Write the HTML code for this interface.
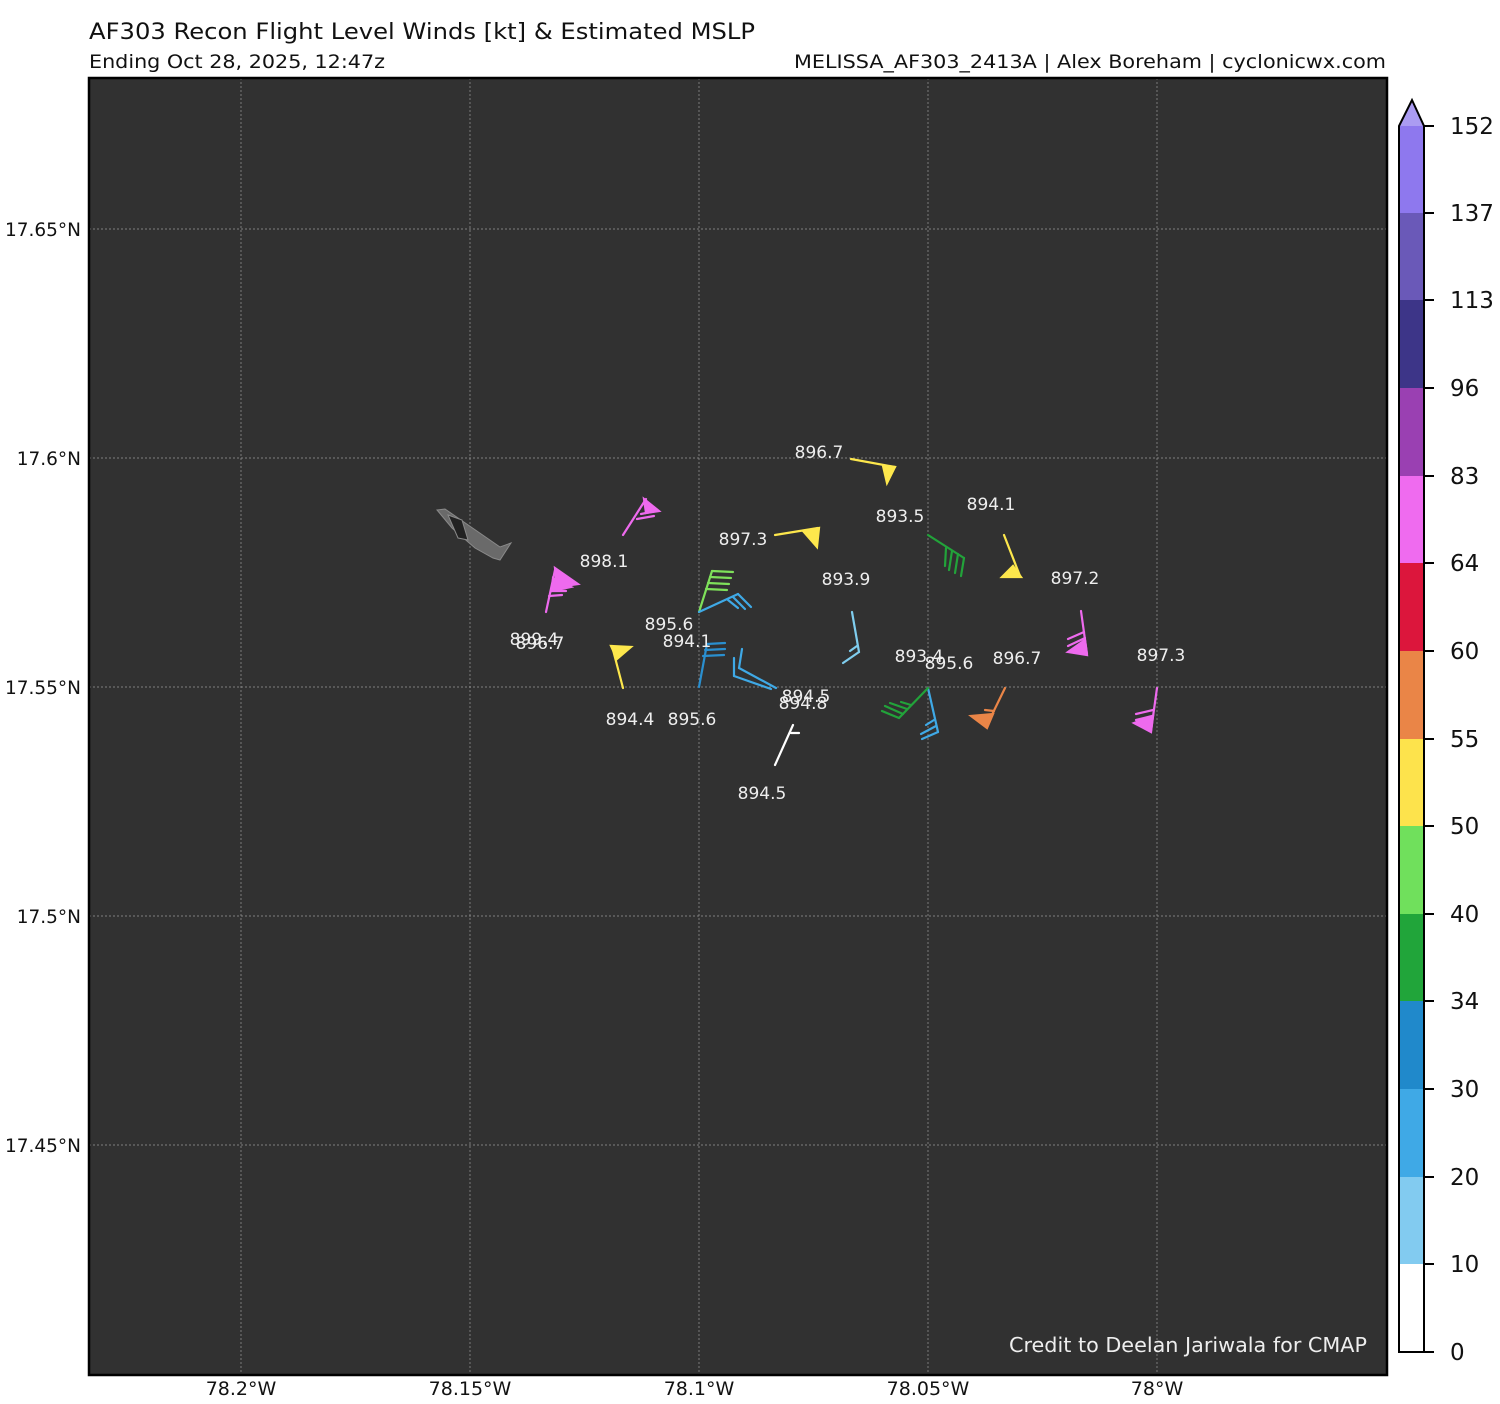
<!DOCTYPE html>
<html><head><meta charset="utf-8"><style>
html,body{margin:0;padding:0;background:#fff;}
svg{display:block;}
text{font-family:"DejaVu Sans","Liberation Sans",sans-serif;}
</style></head><body>
<svg width="1500" height="1404" viewBox="0 0 1500 1404" xmlns="http://www.w3.org/2000/svg">
<rect width="1500" height="1404" fill="#fff"/>
<text x="89" y="39" font-size="22" fill="#111" textLength="666" lengthAdjust="spacingAndGlyphs">AF303 Recon Flight Level Winds [kt] &amp; Estimated MSLP</text>
<text x="89" y="68" font-size="19" fill="#111" textLength="296" lengthAdjust="spacingAndGlyphs">Ending Oct 28, 2025, 12:47z</text>
<text x="794" y="68" font-size="19" fill="#111" textLength="592" lengthAdjust="spacingAndGlyphs">MELISSA_AF303_2413A | Alex Boreham | cyclonicwx.com</text>
<rect x="89" y="78" width="1298" height="1297" fill="#313131"/>
<g stroke="#999" stroke-width="0.7" stroke-dasharray="2,2">
<line x1="241" y1="78" x2="241" y2="1375"/><line x1="470" y1="78" x2="470" y2="1375"/><line x1="699" y1="78" x2="699" y2="1375"/><line x1="928" y1="78" x2="928" y2="1375"/><line x1="1157" y1="78" x2="1157" y2="1375"/>
<line x1="89" y1="229" x2="1387" y2="229"/><line x1="89" y1="458" x2="1387" y2="458"/><line x1="89" y1="687" x2="1387" y2="687"/><line x1="89" y1="916" x2="1387" y2="916"/><line x1="89" y1="1145" x2="1387" y2="1145"/>
</g>
<rect x="89" y="78" width="1298" height="1297" fill="none" stroke="#000" stroke-width="2.5"/>
<g font-size="18.5" fill="#111" text-anchor="end">
<text x="81" y="236">17.65°N</text><text x="81" y="465">17.6°N</text><text x="81" y="694">17.55°N</text><text x="81" y="923">17.5°N</text><text x="81" y="1152">17.45°N</text>
</g>
<g font-size="19" fill="#111" text-anchor="middle">
<text x="241" y="1395">78.2°W</text><text x="470" y="1395">78.15°W</text><text x="699" y="1395">78.1°W</text><text x="928" y="1395">78.05°W</text><text x="1157" y="1395">78°W</text>
</g>
<!-- plane -->
<g fill="#6a6a6a" stroke="#8a8a8a" stroke-width="1">
<polygon points="437,510 445,509 500,547 511,543 500,560 493,558 475,548 460,535 452,528"/>
<polygon points="448,515 462,520 468,540 458,538" fill="#222"/>
</g>
<!-- barbs -->
<g fill="none" stroke-width="2.2" stroke-linecap="round">
<g stroke="#ee6aee" fill="#ee6aee">
<line x1="623" y1="535" x2="646" y2="499"/><polygon points="644,499 659,511 646,513"/>
<line x1="641" y1="514" x2="656" y2="511"/><line x1="637" y1="519" x2="654" y2="516"/>
<line x1="546" y1="612" x2="555" y2="570"/><polygon points="555,568 578,584 557,587"/><polygon points="553,578 571,587 552,591"/>
<line x1="551" y1="591" x2="566" y2="591"/><line x1="549" y1="596" x2="562" y2="595"/>
<line x1="1081" y1="611" x2="1087" y2="654"/><polygon points="1087,655 1068,652 1085,640"/>
<line x1="1084" y1="632" x2="1068" y2="639"/><line x1="1085" y1="638" x2="1068" y2="646"/>
<line x1="1157" y1="688" x2="1151" y2="731"/><polygon points="1151,732 1134,723 1153,716"/>
<line x1="1153" y1="710" x2="1136" y2="714"/><line x1="1152" y1="716" x2="1136" y2="720"/>
</g>
<g stroke="#fde74c" fill="#fde74c">
<line x1="775" y1="535" x2="818" y2="528"/><polygon points="803,531 819,528 817,547"/>
<line x1="851" y1="459" x2="895" y2="467"/><polygon points="883,466 895,467 887,483"/>
<line x1="1004" y1="535" x2="1020" y2="576"/><polygon points="1021,577 1002,577 1013,566"/>
<line x1="623" y1="688" x2="612" y2="646"/><polygon points="611,646 631,647 617,659"/>
</g>
<g stroke="#7ee05a">
<line x1="699" y1="612" x2="712" y2="571"/>
<line x1="712" y1="571" x2="733" y2="572"/><line x1="710" y1="577" x2="731" y2="578"/><line x1="708" y1="583" x2="729" y2="584"/><line x1="706" y1="589" x2="727" y2="590"/>
</g>
<g stroke="#3fa9e6">
<line x1="699" y1="612" x2="738" y2="594"/>
<line x1="738" y1="594" x2="751" y2="607"/><line x1="733" y1="597" x2="745" y2="609"/><line x1="728" y1="600" x2="738" y2="608"/>
<line x1="776" y1="688" x2="739" y2="668"/><line x1="739" y1="668" x2="742" y2="649"/>
<line x1="771" y1="689" x2="734" y2="676"/><line x1="734" y1="676" x2="734" y2="658"/>
<line x1="928" y1="688" x2="938" y2="732"/><line x1="938" y1="732" x2="922" y2="739"/><line x1="936" y1="726" x2="921" y2="734"/><line x1="934" y1="720" x2="926" y2="725"/>
</g>
<g stroke="#2a8fcf">
<line x1="699" y1="687" x2="707" y2="644"/>
<line x1="707" y1="644" x2="725" y2="643"/><line x1="705" y1="650" x2="725" y2="649"/><line x1="703" y1="656" x2="724" y2="655"/>
</g>
<g stroke="#7fcdee">
<line x1="852" y1="612" x2="859" y2="652"/><line x1="859" y1="652" x2="843" y2="663"/><line x1="857" y1="646" x2="850" y2="651"/>
</g>
<g stroke="#22a33a">
<line x1="928" y1="535" x2="964" y2="558"/>
<line x1="964" y1="558" x2="961" y2="576"/><line x1="958" y1="554" x2="955" y2="573"/><line x1="952" y1="551" x2="949" y2="570"/><line x1="946" y1="548" x2="945" y2="566"/>
</g>
<g stroke="#22a33a">
<line x1="928" y1="688" x2="899" y2="718"/>
<line x1="899" y1="718" x2="882" y2="711"/><line x1="903" y1="714" x2="885" y2="706"/><line x1="907" y1="709" x2="890" y2="703"/><line x1="911" y1="705" x2="901" y2="702"/>
</g>
<g stroke="#ea8547" fill="#ea8547">
<line x1="1005" y1="688" x2="986" y2="727"/><polygon points="987,728 971,716 993,714"/><line x1="994" y1="711" x2="985" y2="710"/>
</g>
<g stroke="#fff">
<line x1="775" y1="765" x2="793" y2="725"/><line x1="791" y1="733" x2="799" y2="733"/>
</g>
</g>
<g font-size="17" fill="#eee" text-anchor="middle">
<text x="819" y="458">896.7</text><text x="900" y="522">893.5</text><text x="991" y="510">894.1</text>
<text x="743" y="545">897.3</text><text x="604" y="567">898.1</text><text x="846" y="585">893.9</text>
<text x="1075" y="584">897.2</text><text x="669" y="630">895.6</text><text x="687" y="647">894.1</text>
<text x="534" y="645">899.4</text><text x="540" y="649">896.7</text><text x="919" y="662">893.4</text>
<text x="949" y="669">895.6</text><text x="1017" y="664">896.7</text><text x="1161" y="661">897.3</text>
<text x="806" y="702">894.5</text><text x="803" y="709">894.8</text><text x="630" y="725">894.4</text>
<text x="692" y="725">895.6</text><text x="762" y="799">894.5</text>
</g>
<text x="1367" y="1352" font-size="20" fill="#eee" text-anchor="end" textLength="358" lengthAdjust="spacingAndGlyphs">Credit to Deelan Jariwala for CMAP</text>
<!-- colorbar -->
<g stroke="none">
<polygon points="1399,126 1412,100 1424,126" fill="#ab9cf2"/>
<rect x="1399" y="126" width="25" height="87" fill="#8e78ee"/>
<rect x="1399" y="213" width="25" height="88" fill="#6a59b8"/>
<rect x="1399" y="300" width="25" height="88" fill="#3d3588"/>
<rect x="1399" y="388" width="25" height="88" fill="#9a40b2"/>
<rect x="1399" y="476" width="25" height="88" fill="#ef6bef"/>
<rect x="1399" y="563" width="25" height="88" fill="#dc163c"/>
<rect x="1399" y="651" width="25" height="88" fill="#ea8547"/>
<rect x="1399" y="739" width="25" height="88" fill="#fde34c"/>
<rect x="1399" y="826" width="25" height="88" fill="#70e05c"/>
<rect x="1399" y="914" width="25" height="88" fill="#21a53a"/>
<rect x="1399" y="1001" width="25" height="88" fill="#2089cb"/>
<rect x="1399" y="1089" width="25" height="88" fill="#3fa9e6"/>
<rect x="1399" y="1177" width="25" height="88" fill="#82cbf0"/>
<rect x="1399" y="1264" width="25" height="88" fill="#fff"/>
</g>
<polygon points="1399,1352 1399,126 1412,100 1424,126 1424,1352" fill="none" stroke="#000" stroke-width="2"/>
<g stroke="#000" stroke-width="2">
<line x1="1424" y1="126" x2="1434" y2="126"/><line x1="1424" y1="213" x2="1434" y2="213"/><line x1="1424" y1="300" x2="1434" y2="300"/><line x1="1424" y1="388" x2="1434" y2="388"/><line x1="1424" y1="476" x2="1434" y2="476"/><line x1="1424" y1="563" x2="1434" y2="563"/><line x1="1424" y1="651" x2="1434" y2="651"/><line x1="1424" y1="739" x2="1434" y2="739"/><line x1="1424" y1="826" x2="1434" y2="826"/><line x1="1424" y1="914" x2="1434" y2="914"/><line x1="1424" y1="1001" x2="1434" y2="1001"/><line x1="1424" y1="1089" x2="1434" y2="1089"/><line x1="1424" y1="1177" x2="1434" y2="1177"/><line x1="1424" y1="1264" x2="1434" y2="1264"/><line x1="1424" y1="1352" x2="1434" y2="1352"/>
</g>
<g font-size="23" fill="#111">
<text x="1450" y="134">152</text><text x="1450" y="221">137</text><text x="1450" y="308">113</text><text x="1450" y="396">96</text><text x="1450" y="484">83</text><text x="1450" y="571">64</text><text x="1450" y="659">60</text><text x="1450" y="747">55</text><text x="1450" y="834">50</text><text x="1450" y="922">40</text><text x="1450" y="1009">34</text><text x="1450" y="1097">30</text><text x="1450" y="1185">20</text><text x="1450" y="1272">10</text><text x="1450" y="1360">0</text>
</g>
</svg>
</body></html>
